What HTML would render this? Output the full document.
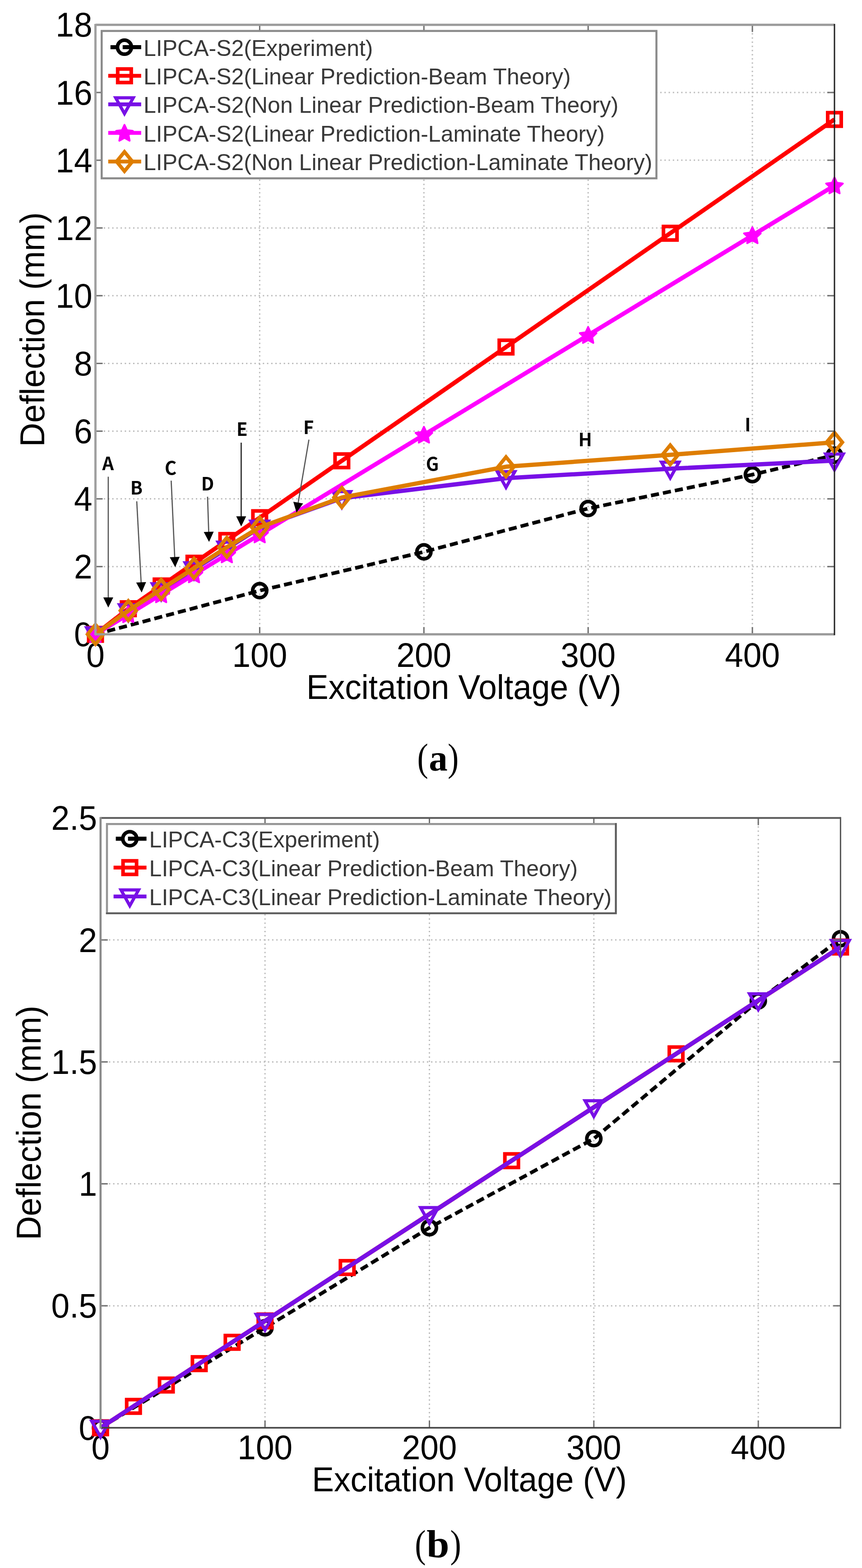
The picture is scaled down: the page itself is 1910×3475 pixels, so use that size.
<!DOCTYPE html>
<html><head><meta charset="utf-8"><title>LIPCA deflection</title>
<style>html,body{margin:0;padding:0;background:#fff;overflow:hidden;} svg{display:block;}</style>
</head><body>
<svg width="1910" height="3475" viewBox="0 0 1910 3475">
<rect width="1910" height="3475" fill="#fff"/>
<g stroke="#bbbbbb" stroke-width="3" stroke-dasharray="3 6.27"><line x1="575.4" y1="54.9" x2="575.4" y2="1405.8"/><line x1="939.3" y1="54.9" x2="939.3" y2="1405.8"/><line x1="1303.2" y1="54.9" x2="1303.2" y2="1405.8"/><line x1="1667.1" y1="54.9" x2="1667.1" y2="1405.8"/><line x1="211.5" y1="1255.7" x2="1849.0" y2="1255.7"/><line x1="211.5" y1="1105.6" x2="1849.0" y2="1105.6"/><line x1="211.5" y1="955.5" x2="1849.0" y2="955.5"/><line x1="211.5" y1="805.4" x2="1849.0" y2="805.4"/><line x1="211.5" y1="655.3" x2="1849.0" y2="655.3"/><line x1="211.5" y1="505.2" x2="1849.0" y2="505.2"/><line x1="211.5" y1="355.1" x2="1849.0" y2="355.1"/><line x1="211.5" y1="205.0" x2="1849.0" y2="205.0"/></g>
<text transform="translate(204.5,1432.3) scale(0.954,1)" text-anchor="end" font-family="'Liberation Sans', Arial, sans-serif" font-size="76.5" font-weight="normal" fill="#000">0</text>
<text transform="translate(204.5,1282.2) scale(0.954,1)" text-anchor="end" font-family="'Liberation Sans', Arial, sans-serif" font-size="76.5" font-weight="normal" fill="#000">2</text>
<text transform="translate(204.5,1132.1) scale(0.954,1)" text-anchor="end" font-family="'Liberation Sans', Arial, sans-serif" font-size="76.5" font-weight="normal" fill="#000">4</text>
<text transform="translate(204.5,982.0) scale(0.954,1)" text-anchor="end" font-family="'Liberation Sans', Arial, sans-serif" font-size="76.5" font-weight="normal" fill="#000">6</text>
<text transform="translate(204.5,831.9) scale(0.954,1)" text-anchor="end" font-family="'Liberation Sans', Arial, sans-serif" font-size="76.5" font-weight="normal" fill="#000">8</text>
<text transform="translate(204.5,681.8) scale(0.954,1)" text-anchor="end" font-family="'Liberation Sans', Arial, sans-serif" font-size="76.5" font-weight="normal" fill="#000">10</text>
<text transform="translate(204.5,531.7) scale(0.954,1)" text-anchor="end" font-family="'Liberation Sans', Arial, sans-serif" font-size="76.5" font-weight="normal" fill="#000">12</text>
<text transform="translate(204.5,381.6) scale(0.954,1)" text-anchor="end" font-family="'Liberation Sans', Arial, sans-serif" font-size="76.5" font-weight="normal" fill="#000">14</text>
<text transform="translate(204.5,231.5) scale(0.954,1)" text-anchor="end" font-family="'Liberation Sans', Arial, sans-serif" font-size="76.5" font-weight="normal" fill="#000">16</text>
<text transform="translate(204.5,81.4) scale(0.954,1)" text-anchor="end" font-family="'Liberation Sans', Arial, sans-serif" font-size="76.5" font-weight="normal" fill="#000">18</text>
<text transform="translate(211.5,1477.5) scale(0.954,1)" text-anchor="middle" font-family="'Liberation Sans', Arial, sans-serif" font-size="76.5" font-weight="normal" fill="#000">0</text>
<text transform="translate(575.4,1477.5) scale(0.954,1)" text-anchor="middle" font-family="'Liberation Sans', Arial, sans-serif" font-size="76.5" font-weight="normal" fill="#000">100</text>
<text transform="translate(939.3,1477.5) scale(0.954,1)" text-anchor="middle" font-family="'Liberation Sans', Arial, sans-serif" font-size="76.5" font-weight="normal" fill="#000">200</text>
<text transform="translate(1303.2,1477.5) scale(0.954,1)" text-anchor="middle" font-family="'Liberation Sans', Arial, sans-serif" font-size="76.5" font-weight="normal" fill="#000">300</text>
<text transform="translate(1667.1,1477.5) scale(0.954,1)" text-anchor="middle" font-family="'Liberation Sans', Arial, sans-serif" font-size="76.5" font-weight="normal" fill="#000">400</text>
<text transform="translate(1027.8,1548.5) scale(0.954,1)" text-anchor="middle" font-family="'Liberation Sans', Arial, sans-serif" font-size="76.5" font-weight="normal" fill="#000">Excitation Voltage (V)</text>
<text transform="translate(97.5,730.4) rotate(-90) scale(0.963,1)" text-anchor="middle" font-family="'Liberation Sans', Arial, sans-serif" font-size="76.5" fill="#000">Deflection (mm)</text>
<polyline points="211.5,1405.8 575.4,1309.0 939.3,1223.0 1303.2,1127.0 1667.1,1051.9 1849.0,1008.8" fill="none" stroke="#000000" stroke-width="8" stroke-linejoin="round" stroke-dasharray="18 9"/>
<circle cx="211.5" cy="1405.8" r="15.5" fill="none" stroke="#000000" stroke-width="8"/><circle cx="575.4" cy="1309.0" r="15.5" fill="none" stroke="#000000" stroke-width="8"/><circle cx="939.3" cy="1223.0" r="15.5" fill="none" stroke="#000000" stroke-width="8"/><circle cx="1303.2" cy="1127.0" r="15.5" fill="none" stroke="#000000" stroke-width="8"/><circle cx="1667.1" cy="1051.9" r="15.5" fill="none" stroke="#000000" stroke-width="8"/><circle cx="1849.0" cy="1008.8" r="15.5" fill="none" stroke="#000000" stroke-width="8"/>
<polyline points="211.5,1405.8 284.3,1349.1 357.1,1298.6 429.8,1248.2 502.6,1197.8 575.4,1147.3 757.4,1021.2 1121.2,769.1 1485.1,516.9 1849.0,264.7" fill="none" stroke="#ff0000" stroke-width="9.5" stroke-linejoin="round"/>
<rect x="196.5" y="1390.8" width="30" height="30" fill="none" stroke="#ff0000" stroke-width="8"/><rect x="269.3" y="1334.1" width="30" height="30" fill="none" stroke="#ff0000" stroke-width="8"/><rect x="342.1" y="1283.6" width="30" height="30" fill="none" stroke="#ff0000" stroke-width="8"/><rect x="414.8" y="1233.2" width="30" height="30" fill="none" stroke="#ff0000" stroke-width="8"/><rect x="487.6" y="1182.8" width="30" height="30" fill="none" stroke="#ff0000" stroke-width="8"/><rect x="560.4" y="1132.3" width="30" height="30" fill="none" stroke="#ff0000" stroke-width="8"/><rect x="742.4" y="1006.2" width="30" height="30" fill="none" stroke="#ff0000" stroke-width="8"/><rect x="1106.2" y="754.1" width="30" height="30" fill="none" stroke="#ff0000" stroke-width="8"/><rect x="1470.1" y="501.9" width="30" height="30" fill="none" stroke="#ff0000" stroke-width="8"/><rect x="1834.0" y="249.7" width="30" height="30" fill="none" stroke="#ff0000" stroke-width="8"/>
<polyline points="211.5,1405.8 284.3,1354.8 357.1,1308.2 429.8,1261.7 502.6,1215.9 575.4,1169.4 757.4,1104.1 1121.2,1059.8 1485.1,1038.8 1849.0,1020.8" fill="none" stroke="#7810e6" stroke-width="9.5" stroke-linejoin="round"/>
<polygon points="192.0,1391.3 231.0,1391.3 211.5,1426.3" fill="none" stroke="#7810e6" stroke-width="7" stroke-linejoin="miter"/><polygon points="264.8,1340.3 303.8,1340.3 284.3,1375.3" fill="none" stroke="#7810e6" stroke-width="7" stroke-linejoin="miter"/><polygon points="337.6,1293.7 376.6,1293.7 357.1,1328.7" fill="none" stroke="#7810e6" stroke-width="7" stroke-linejoin="miter"/><polygon points="410.3,1247.2 449.3,1247.2 429.8,1282.2" fill="none" stroke="#7810e6" stroke-width="7" stroke-linejoin="miter"/><polygon points="483.1,1201.4 522.1,1201.4 502.6,1236.4" fill="none" stroke="#7810e6" stroke-width="7" stroke-linejoin="miter"/><polygon points="555.9,1154.9 594.9,1154.9 575.4,1189.9" fill="none" stroke="#7810e6" stroke-width="7" stroke-linejoin="miter"/><polygon points="737.9,1089.6 776.9,1089.6 757.4,1124.6" fill="none" stroke="#7810e6" stroke-width="7" stroke-linejoin="miter"/><polygon points="1101.8,1045.3 1140.8,1045.3 1121.2,1080.3" fill="none" stroke="#7810e6" stroke-width="7" stroke-linejoin="miter"/><polygon points="1465.6,1024.3 1504.6,1024.3 1485.1,1059.3" fill="none" stroke="#7810e6" stroke-width="7" stroke-linejoin="miter"/><polygon points="1829.5,1006.3 1868.5,1006.3 1849.0,1041.3" fill="none" stroke="#7810e6" stroke-width="7" stroke-linejoin="miter"/>
<polyline points="211.5,1405.8 284.3,1361.6 357.1,1317.4 429.8,1273.2 502.6,1229.0 575.4,1184.8 939.3,963.8 1303.2,742.7 1667.1,521.7 1849.0,411.2" fill="none" stroke="#ff00ff" stroke-width="9.5" stroke-linejoin="round"/>
<polygon points="211.5,1387.8 217.1,1399.6 230.0,1401.3 220.5,1410.2 223.0,1423.1 211.5,1416.8 200.0,1423.1 202.5,1410.2 193.0,1401.3 205.9,1399.6" fill="#ff00ff" stroke="#ff00ff" stroke-width="4" stroke-linejoin="round"/><polygon points="284.3,1343.6 289.9,1355.4 302.8,1357.1 293.3,1366.0 295.7,1378.9 284.3,1372.6 272.8,1378.9 275.2,1366.0 265.7,1357.1 278.7,1355.4" fill="#ff00ff" stroke="#ff00ff" stroke-width="4" stroke-linejoin="round"/><polygon points="357.1,1299.4 362.6,1311.2 375.6,1312.9 366.1,1321.8 368.5,1334.7 357.1,1328.4 345.6,1334.7 348.0,1321.8 338.5,1312.9 351.5,1311.2" fill="#ff00ff" stroke="#ff00ff" stroke-width="4" stroke-linejoin="round"/><polygon points="429.8,1255.2 435.4,1267.0 448.4,1268.7 438.9,1277.6 441.3,1290.5 429.8,1284.2 418.4,1290.5 420.8,1277.6 411.3,1268.7 424.3,1267.0" fill="#ff00ff" stroke="#ff00ff" stroke-width="4" stroke-linejoin="round"/><polygon points="502.6,1211.0 508.2,1222.8 521.2,1224.5 511.7,1233.4 514.1,1246.3 502.6,1240.0 491.2,1246.3 493.6,1233.4 484.1,1224.5 497.0,1222.8" fill="#ff00ff" stroke="#ff00ff" stroke-width="4" stroke-linejoin="round"/><polygon points="575.4,1166.8 581.0,1178.6 593.9,1180.3 584.4,1189.2 586.9,1202.1 575.4,1195.8 563.9,1202.1 566.4,1189.2 556.9,1180.3 569.8,1178.6" fill="#ff00ff" stroke="#ff00ff" stroke-width="4" stroke-linejoin="round"/><polygon points="939.3,945.8 944.9,957.6 957.8,959.2 948.3,968.2 950.8,981.0 939.3,974.8 927.8,981.0 930.3,968.2 920.8,959.2 933.7,957.6" fill="#ff00ff" stroke="#ff00ff" stroke-width="4" stroke-linejoin="round"/><polygon points="1303.2,724.7 1308.8,736.5 1321.7,738.2 1312.2,747.2 1314.7,760.0 1303.2,753.7 1291.7,760.0 1294.2,747.2 1284.7,738.2 1297.6,736.5" fill="#ff00ff" stroke="#ff00ff" stroke-width="4" stroke-linejoin="round"/><polygon points="1667.1,503.7 1672.7,515.5 1685.6,517.2 1676.1,526.1 1678.6,539.0 1667.1,532.7 1655.6,539.0 1658.1,526.1 1648.6,517.2 1661.5,515.5" fill="#ff00ff" stroke="#ff00ff" stroke-width="4" stroke-linejoin="round"/><polygon points="1849.0,393.2 1854.6,405.0 1867.6,406.7 1858.1,415.6 1860.5,428.5 1849.0,422.2 1837.6,428.5 1840.0,415.6 1830.5,406.7 1843.5,405.0" fill="#ff00ff" stroke="#ff00ff" stroke-width="4" stroke-linejoin="round"/>
<polyline points="211.5,1405.8 284.3,1353.3 357.1,1306.0 429.8,1259.5 502.6,1212.9 575.4,1168.6 757.4,1102.6 1121.2,1034.3 1485.1,1008.0 1849.0,980.3" fill="none" stroke="#de7d00" stroke-width="9.5" stroke-linejoin="round"/>
<polygon points="211.5,1384.3 229.0,1405.8 211.5,1427.3 194.0,1405.8" fill="none" stroke="#de7d00" stroke-width="8" stroke-linejoin="miter"/><polygon points="284.3,1331.8 301.8,1353.3 284.3,1374.8 266.8,1353.3" fill="none" stroke="#de7d00" stroke-width="8" stroke-linejoin="miter"/><polygon points="357.1,1284.5 374.6,1306.0 357.1,1327.5 339.6,1306.0" fill="none" stroke="#de7d00" stroke-width="8" stroke-linejoin="miter"/><polygon points="429.8,1238.0 447.3,1259.5 429.8,1281.0 412.3,1259.5" fill="none" stroke="#de7d00" stroke-width="8" stroke-linejoin="miter"/><polygon points="502.6,1191.4 520.1,1212.9 502.6,1234.4 485.1,1212.9" fill="none" stroke="#de7d00" stroke-width="8" stroke-linejoin="miter"/><polygon points="575.4,1147.1 592.9,1168.6 575.4,1190.1 557.9,1168.6" fill="none" stroke="#de7d00" stroke-width="8" stroke-linejoin="miter"/><polygon points="757.4,1081.1 774.9,1102.6 757.4,1124.1 739.9,1102.6" fill="none" stroke="#de7d00" stroke-width="8" stroke-linejoin="miter"/><polygon points="1121.2,1012.8 1138.8,1034.3 1121.2,1055.8 1103.8,1034.3" fill="none" stroke="#de7d00" stroke-width="8" stroke-linejoin="miter"/><polygon points="1485.1,986.5 1502.6,1008.0 1485.1,1029.5 1467.6,1008.0" fill="none" stroke="#de7d00" stroke-width="8" stroke-linejoin="miter"/><polygon points="1849.0,958.8 1866.5,980.3 1849.0,1001.8 1831.5,980.3" fill="none" stroke="#de7d00" stroke-width="8" stroke-linejoin="miter"/>
<g stroke="#707070" stroke-width="3"><line x1="575.4" y1="1405.8" x2="575.4" y2="1389.8"/><line x1="575.4" y1="54.9" x2="575.4" y2="70.9"/><line x1="939.3" y1="1405.8" x2="939.3" y2="1389.8"/><line x1="939.3" y1="54.9" x2="939.3" y2="70.9"/><line x1="1303.2" y1="1405.8" x2="1303.2" y2="1389.8"/><line x1="1303.2" y1="54.9" x2="1303.2" y2="70.9"/><line x1="1667.1" y1="1405.8" x2="1667.1" y2="1389.8"/><line x1="1667.1" y1="54.9" x2="1667.1" y2="70.9"/><line x1="211.5" y1="1255.7" x2="227.5" y2="1255.7"/><line x1="1849.0" y1="1255.7" x2="1833.0" y2="1255.7"/><line x1="211.5" y1="1105.6" x2="227.5" y2="1105.6"/><line x1="1849.0" y1="1105.6" x2="1833.0" y2="1105.6"/><line x1="211.5" y1="955.5" x2="227.5" y2="955.5"/><line x1="1849.0" y1="955.5" x2="1833.0" y2="955.5"/><line x1="211.5" y1="805.4" x2="227.5" y2="805.4"/><line x1="1849.0" y1="805.4" x2="1833.0" y2="805.4"/><line x1="211.5" y1="655.3" x2="227.5" y2="655.3"/><line x1="1849.0" y1="655.3" x2="1833.0" y2="655.3"/><line x1="211.5" y1="505.2" x2="227.5" y2="505.2"/><line x1="1849.0" y1="505.2" x2="1833.0" y2="505.2"/><line x1="211.5" y1="355.1" x2="227.5" y2="355.1"/><line x1="1849.0" y1="355.1" x2="1833.0" y2="355.1"/><line x1="211.5" y1="205.0" x2="227.5" y2="205.0"/><line x1="1849.0" y1="205.0" x2="1833.0" y2="205.0"/></g>
<line x1="211.5" y1="54.9" x2="1849.0" y2="54.9" stroke="#9a9a9a" stroke-width="5"/>
<line x1="211.5" y1="1405.8" x2="1849.0" y2="1405.8" stroke="#9a9a9a" stroke-width="5"/>
<line x1="211.5" y1="52.9" x2="211.5" y2="1407.8" stroke="#a0a0a0" stroke-width="5"/>
<line x1="1849.0" y1="52.9" x2="1849.0" y2="1407.8" stroke="#222" stroke-width="3"/>
<text x="239.4" y="1041.5" text-anchor="middle" font-family="'Noto Sans CJK KR', 'Liberation Sans', sans-serif" font-weight="bold" font-size="40" fill="#000">A</text><line x1="239.9" y1="1056.4" x2="239.9" y2="1325.9" stroke="#555" stroke-width="2.6"/><polygon points="239.9,1346.4 228.9,1323.9 250.9,1323.9" fill="#000"/>
<text x="302.3" y="1096.0" text-anchor="middle" font-family="'Noto Sans CJK KR', 'Liberation Sans', sans-serif" font-weight="bold" font-size="40" fill="#000">B</text><line x1="303.0" y1="1111.0" x2="312.8" y2="1292.5" stroke="#555" stroke-width="2.6"/><polygon points="313.9,1313.0 301.7,1291.1 323.7,1289.9" fill="#000"/>
<text x="378.0" y="1051.5" text-anchor="middle" font-family="'Noto Sans CJK KR', 'Liberation Sans', sans-serif" font-weight="bold" font-size="40" fill="#000">C</text><line x1="379.3" y1="1065.3" x2="387.2" y2="1236.5" stroke="#555" stroke-width="2.6"/><polygon points="388.2,1257.0 376.2,1235.0 398.1,1234.0" fill="#000"/>
<text x="460.0" y="1087.0" text-anchor="middle" font-family="'Noto Sans CJK KR', 'Liberation Sans', sans-serif" font-weight="bold" font-size="40" fill="#000">D</text><line x1="459.9" y1="1100.9" x2="462.5" y2="1180.6" stroke="#555" stroke-width="2.6"/><polygon points="463.2,1201.1 451.5,1179.0 473.5,1178.3" fill="#000"/>
<text x="536.2" y="966.0" text-anchor="middle" font-family="'Noto Sans CJK KR', 'Liberation Sans', sans-serif" font-weight="bold" font-size="40" fill="#000">E</text><line x1="534.4" y1="981.0" x2="534.4" y2="1146.3" stroke="#222" stroke-width="2.6"/><polygon points="534.4,1166.8 523.4,1144.3 545.4,1144.3" fill="#000"/>
<text x="683.6" y="961.5" text-anchor="middle" font-family="'Noto Sans CJK KR', 'Liberation Sans', sans-serif" font-weight="bold" font-size="40" fill="#000">F</text><line x1="684.5" y1="974.4" x2="660.4" y2="1115.8" stroke="#555" stroke-width="2.6"/><polygon points="657.0,1136.0 649.9,1112.0 671.6,1115.7" fill="#000"/>
<text x="958.0" y="1042.5" text-anchor="middle" font-family="'Noto Sans CJK KR', 'Liberation Sans', sans-serif" font-weight="bold" font-size="40" fill="#000">G</text>
<text x="1296.7" y="989.1" text-anchor="middle" font-family="'Noto Sans CJK KR', 'Liberation Sans', sans-serif" font-weight="bold" font-size="40" fill="#000">H</text>
<text x="1656.9" y="956.1" text-anchor="middle" font-family="'Noto Sans CJK KR', 'Liberation Sans', sans-serif" font-weight="bold" font-size="40" fill="#000">I</text>
<rect x="225.3" y="68.6" width="1229.2" height="326.6" fill="#fff" stroke="#8a8a8a" stroke-width="4.5"/>
<line x1="244.8" y1="104.6" x2="257.8" y2="104.6" stroke="#000000" stroke-width="9"/>
<line x1="271.8" y1="104.6" x2="312.8" y2="104.6" stroke="#000000" stroke-width="9"/>
<circle cx="275.8" cy="104.6" r="15.5" fill="none" stroke="#000000" stroke-width="8"/>
<text x="318.0" y="123.6" font-family="'Liberation Sans', Arial, sans-serif" font-size="50" fill="#383838">LIPCA-S2(Experiment)</text>
<line x1="239.8" y1="167.9" x2="312.8" y2="167.9" stroke="#ff0000" stroke-width="8.5"/>
<rect x="260.8" y="152.9" width="30" height="30" fill="none" stroke="#ff0000" stroke-width="8"/>
<text x="318.0" y="186.9" font-family="'Liberation Sans', Arial, sans-serif" font-size="50" fill="#383838">LIPCA-S2(Linear Prediction-Beam Theory)</text>
<line x1="239.8" y1="231.3" x2="312.8" y2="231.3" stroke="#7810e6" stroke-width="8.5"/>
<polygon points="256.3,216.8 295.3,216.8 275.8,251.8" fill="none" stroke="#7810e6" stroke-width="7" stroke-linejoin="miter"/>
<text x="318.0" y="250.3" font-family="'Liberation Sans', Arial, sans-serif" font-size="50" fill="#383838">LIPCA-S2(Non Linear Prediction-Beam Theory)</text>
<line x1="239.8" y1="294.6" x2="312.8" y2="294.6" stroke="#ff00ff" stroke-width="8.5"/>
<polygon points="275.8,276.6 281.4,288.5 294.3,290.1 284.8,299.1 287.3,311.9 275.8,305.6 264.3,311.9 266.8,299.1 257.3,290.1 270.2,288.5" fill="#ff00ff" stroke="#ff00ff" stroke-width="4" stroke-linejoin="round"/>
<text x="318.0" y="313.6" font-family="'Liberation Sans', Arial, sans-serif" font-size="50" fill="#383838">LIPCA-S2(Linear Prediction-Laminate Theory)</text>
<line x1="239.8" y1="358.0" x2="312.8" y2="358.0" stroke="#de7d00" stroke-width="8.5"/>
<polygon points="275.8,336.5 293.3,358.0 275.8,379.5 258.3,358.0" fill="none" stroke="#de7d00" stroke-width="8" stroke-linejoin="miter"/>
<text x="318.0" y="377.0" font-family="'Liberation Sans', Arial, sans-serif" font-size="50" fill="#383838">LIPCA-S2(Non Linear Prediction-Laminate Theory)</text>
<text transform="translate(924.4,1708.0) scale(0.85,1)" font-family="'Liberation Serif', 'Times New Roman', serif" font-size="86" fill="#000">(</text><text x="950.3" y="1708" font-family="'Liberation Serif', 'Times New Roman', serif" font-weight="bold" font-size="83" fill="#000">a</text><text transform="translate(992.0,1708.0) scale(0.85,1)" font-family="'Liberation Serif', 'Times New Roman', serif" font-size="86" fill="#000">)</text>
<g stroke="#bbbbbb" stroke-width="3" stroke-dasharray="3 6.27"><line x1="587.2" y1="1812.8" x2="587.2" y2="3164.2"/><line x1="951.5" y1="1812.8" x2="951.5" y2="3164.2"/><line x1="1315.8" y1="1812.8" x2="1315.8" y2="3164.2"/><line x1="1680.2" y1="1812.8" x2="1680.2" y2="3164.2"/><line x1="222.8" y1="2893.9" x2="1862.4" y2="2893.9"/><line x1="222.8" y1="2623.6" x2="1862.4" y2="2623.6"/><line x1="222.8" y1="2353.4" x2="1862.4" y2="2353.4"/><line x1="222.8" y1="2083.1" x2="1862.4" y2="2083.1"/></g>
<text transform="translate(215.0,3190.7) scale(0.954,1)" text-anchor="end" font-family="'Liberation Sans', Arial, sans-serif" font-size="76.5" font-weight="normal" fill="#000">0</text>
<text transform="translate(215.0,2920.4) scale(0.954,1)" text-anchor="end" font-family="'Liberation Sans', Arial, sans-serif" font-size="76.5" font-weight="normal" fill="#000">0.5</text>
<text transform="translate(215.0,2650.1) scale(0.954,1)" text-anchor="end" font-family="'Liberation Sans', Arial, sans-serif" font-size="76.5" font-weight="normal" fill="#000">1</text>
<text transform="translate(215.0,2379.9) scale(0.954,1)" text-anchor="end" font-family="'Liberation Sans', Arial, sans-serif" font-size="76.5" font-weight="normal" fill="#000">1.5</text>
<text transform="translate(215.0,2109.6) scale(0.954,1)" text-anchor="end" font-family="'Liberation Sans', Arial, sans-serif" font-size="76.5" font-weight="normal" fill="#000">2</text>
<text transform="translate(215.0,1839.3) scale(0.954,1)" text-anchor="end" font-family="'Liberation Sans', Arial, sans-serif" font-size="76.5" font-weight="normal" fill="#000">2.5</text>
<text transform="translate(222.8,3234.0) scale(0.954,1)" text-anchor="middle" font-family="'Liberation Sans', Arial, sans-serif" font-size="76.5" font-weight="normal" fill="#000">0</text>
<text transform="translate(587.2,3234.0) scale(0.954,1)" text-anchor="middle" font-family="'Liberation Sans', Arial, sans-serif" font-size="76.5" font-weight="normal" fill="#000">100</text>
<text transform="translate(951.5,3234.0) scale(0.954,1)" text-anchor="middle" font-family="'Liberation Sans', Arial, sans-serif" font-size="76.5" font-weight="normal" fill="#000">200</text>
<text transform="translate(1315.8,3234.0) scale(0.954,1)" text-anchor="middle" font-family="'Liberation Sans', Arial, sans-serif" font-size="76.5" font-weight="normal" fill="#000">300</text>
<text transform="translate(1680.2,3234.0) scale(0.954,1)" text-anchor="middle" font-family="'Liberation Sans', Arial, sans-serif" font-size="76.5" font-weight="normal" fill="#000">400</text>
<text transform="translate(1040.1,3305.0) scale(0.954,1)" text-anchor="middle" font-family="'Liberation Sans', Arial, sans-serif" font-size="76.5" font-weight="normal" fill="#000">Excitation Voltage (V)</text>
<text transform="translate(89.9,2488.5) rotate(-90) scale(0.963,1)" text-anchor="middle" font-family="'Liberation Sans', Arial, sans-serif" font-size="76.5" fill="#000">Deflection (mm)</text>
<polyline points="222.8,3164.2 587.2,2942.6 951.5,2720.9 1315.8,2523.6 1680.2,2218.2 1862.4,2080.4" fill="none" stroke="#000000" stroke-width="8" stroke-linejoin="round" stroke-dasharray="18 9"/>
<circle cx="222.8" cy="3164.2" r="15.5" fill="none" stroke="#000000" stroke-width="8"/><circle cx="587.2" cy="2942.6" r="15.5" fill="none" stroke="#000000" stroke-width="8"/><circle cx="951.5" cy="2720.9" r="15.5" fill="none" stroke="#000000" stroke-width="8"/><circle cx="1315.8" cy="2523.6" r="15.5" fill="none" stroke="#000000" stroke-width="8"/><circle cx="1680.2" cy="2218.2" r="15.5" fill="none" stroke="#000000" stroke-width="8"/><circle cx="1862.4" cy="2080.4" r="15.5" fill="none" stroke="#000000" stroke-width="8"/>
<polyline points="222.8,3164.2 295.7,3116.8 368.5,3069.5 441.4,3022.1 514.3,2974.8 587.2,2927.4 769.3,2809.1 1133.7,2572.3 1498.0,2335.5 1862.4,2098.8" fill="none" stroke="#ff0000" stroke-width="9.5" stroke-linejoin="round"/>
<rect x="207.8" y="3149.2" width="30" height="30" fill="none" stroke="#ff0000" stroke-width="8"/><rect x="280.7" y="3101.8" width="30" height="30" fill="none" stroke="#ff0000" stroke-width="8"/><rect x="353.5" y="3054.5" width="30" height="30" fill="none" stroke="#ff0000" stroke-width="8"/><rect x="426.4" y="3007.1" width="30" height="30" fill="none" stroke="#ff0000" stroke-width="8"/><rect x="499.3" y="2959.8" width="30" height="30" fill="none" stroke="#ff0000" stroke-width="8"/><rect x="572.2" y="2912.4" width="30" height="30" fill="none" stroke="#ff0000" stroke-width="8"/><rect x="754.3" y="2794.1" width="30" height="30" fill="none" stroke="#ff0000" stroke-width="8"/><rect x="1118.7" y="2557.3" width="30" height="30" fill="none" stroke="#ff0000" stroke-width="8"/><rect x="1483.0" y="2320.5" width="30" height="30" fill="none" stroke="#ff0000" stroke-width="8"/><rect x="1847.4" y="2083.8" width="30" height="30" fill="none" stroke="#ff0000" stroke-width="8"/>
<polyline points="222.8,3164.2 587.2,2927.4 951.5,2690.7 1315.8,2453.9 1680.2,2217.1 1862.4,2098.8" fill="none" stroke="#7810e6" stroke-width="9.5" stroke-linejoin="round"/>
<polygon points="203.3,3149.7 242.3,3149.7 222.8,3184.7" fill="none" stroke="#7810e6" stroke-width="7" stroke-linejoin="miter"/><polygon points="567.7,2912.9 606.7,2912.9 587.2,2947.9" fill="none" stroke="#7810e6" stroke-width="7" stroke-linejoin="miter"/><polygon points="932.0,2676.2 971.0,2676.2 951.5,2711.2" fill="none" stroke="#7810e6" stroke-width="7" stroke-linejoin="miter"/><polygon points="1296.3,2439.4 1335.3,2439.4 1315.8,2474.4" fill="none" stroke="#7810e6" stroke-width="7" stroke-linejoin="miter"/><polygon points="1660.7,2202.6 1699.7,2202.6 1680.2,2237.6" fill="none" stroke="#7810e6" stroke-width="7" stroke-linejoin="miter"/><polygon points="1842.9,2084.3 1881.9,2084.3 1862.4,2119.3" fill="none" stroke="#7810e6" stroke-width="7" stroke-linejoin="miter"/>
<g stroke="#707070" stroke-width="3"><line x1="587.2" y1="3164.2" x2="587.2" y2="3148.2"/><line x1="587.2" y1="1812.8" x2="587.2" y2="1828.8"/><line x1="951.5" y1="3164.2" x2="951.5" y2="3148.2"/><line x1="951.5" y1="1812.8" x2="951.5" y2="1828.8"/><line x1="1315.8" y1="3164.2" x2="1315.8" y2="3148.2"/><line x1="1315.8" y1="1812.8" x2="1315.8" y2="1828.8"/><line x1="1680.2" y1="3164.2" x2="1680.2" y2="3148.2"/><line x1="1680.2" y1="1812.8" x2="1680.2" y2="1828.8"/><line x1="222.8" y1="2893.9" x2="238.8" y2="2893.9"/><line x1="1862.4" y1="2893.9" x2="1846.4" y2="2893.9"/><line x1="222.8" y1="2623.6" x2="238.8" y2="2623.6"/><line x1="1862.4" y1="2623.6" x2="1846.4" y2="2623.6"/><line x1="222.8" y1="2353.4" x2="238.8" y2="2353.4"/><line x1="1862.4" y1="2353.4" x2="1846.4" y2="2353.4"/><line x1="222.8" y1="2083.1" x2="238.8" y2="2083.1"/><line x1="1862.4" y1="2083.1" x2="1846.4" y2="2083.1"/></g>
<line x1="222.8" y1="1812.8" x2="1862.4" y2="1812.8" stroke="#5a5a5a" stroke-width="4"/>
<line x1="222.8" y1="3164.2" x2="1862.4" y2="3164.2" stroke="#444" stroke-width="3.6"/>
<line x1="222.8" y1="1810.8" x2="222.8" y2="3166.2" stroke="#8a8a8a" stroke-width="4.6"/>
<line x1="1862.4" y1="1810.8" x2="1862.4" y2="3166.2" stroke="#555" stroke-width="3"/>
<rect x="237.0" y="1826.2" width="1127.6" height="197.8" fill="#fff" stroke="#959595" stroke-width="4.5"/>
<polyline points="1364.6,1824.0 1364.6,2024.0 234.8,2024.0" fill="none" stroke="#5a5a5a" stroke-width="3.5"/>
<line x1="256.6" y1="1858.8" x2="269.6" y2="1858.8" stroke="#000000" stroke-width="9"/>
<line x1="283.6" y1="1858.8" x2="324.6" y2="1858.8" stroke="#000000" stroke-width="9"/>
<circle cx="287.6" cy="1858.8" r="15.5" fill="none" stroke="#000000" stroke-width="8"/>
<text x="330.6" y="1877.8" font-family="'Liberation Sans', Arial, sans-serif" font-size="50" fill="#383838">LIPCA-C3(Experiment)</text>
<line x1="251.6" y1="1922.8" x2="324.6" y2="1922.8" stroke="#ff0000" stroke-width="8.5"/>
<rect x="272.6" y="1907.8" width="30" height="30" fill="none" stroke="#ff0000" stroke-width="8"/>
<text x="330.6" y="1941.8" font-family="'Liberation Sans', Arial, sans-serif" font-size="50" fill="#383838">LIPCA-C3(Linear Prediction-Beam Theory)</text>
<line x1="251.6" y1="1986.8" x2="324.6" y2="1986.8" stroke="#7810e6" stroke-width="8.5"/>
<polygon points="268.1,1972.3 307.1,1972.3 287.6,2007.3" fill="none" stroke="#7810e6" stroke-width="7" stroke-linejoin="miter"/>
<text x="330.6" y="2005.8" font-family="'Liberation Sans', Arial, sans-serif" font-size="50" fill="#383838">LIPCA-C3(Linear Prediction-Laminate Theory)</text>
<text transform="translate(919.2,3451.0) scale(0.85,1)" font-family="'Liberation Serif', 'Times New Roman', serif" font-size="86" fill="#000">(</text><text transform="translate(945.3,3451) scale(1.05,1)" font-family="'Liberation Serif', 'Times New Roman', serif" font-weight="bold" font-size="86" fill="#000">b</text><text transform="translate(997.5,3451.0) scale(0.85,1)" font-family="'Liberation Serif', 'Times New Roman', serif" font-size="86" fill="#000">)</text>
</svg>
</body></html>
